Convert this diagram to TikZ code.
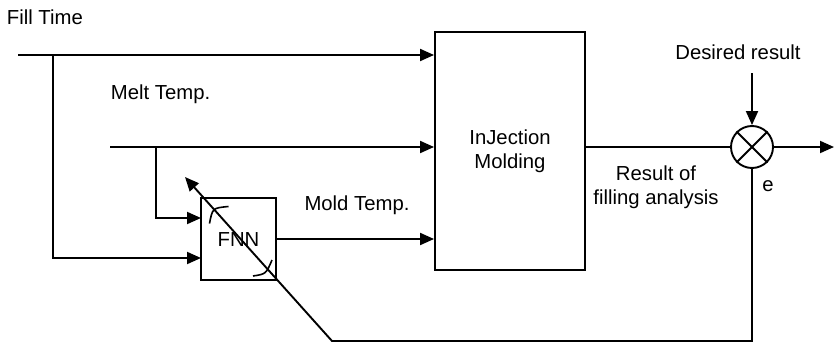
\documentclass[tikz,border=0pt]{standalone}
\usepackage{fontspec}
\setmainfont{Liberation Sans}
\usetikzlibrary{arrows.meta,calc}
\begin{document}
\begin{tikzpicture}[x=1pt,y=-1pt,
  line width=1.9pt,
  lbl/.style={inner sep=0pt,font=\fontsize{20.3}{24}\selectfont},
  blk/.style={draw,inner sep=0pt,line width=1.9pt},
  arr/.style={-{Triangle[length=14pt,width=12pt]}},
  adjmark/.style={line width=1.6pt}
]
\useasboundingbox (0,0) rectangle (834,345);
% labels
\node[lbl,anchor=west] (filllbl) at (6,17) {Fill Time};
\node[lbl,anchor=west] (meltlbl) at (110,94) {Melt Temp.};
\node[lbl] (moldlbl) at (357,205) {Mold Temp.};
\node[lbl,align=center] (reslbl) at (656,187) {Result of\\filling analysis};
\node[lbl] (deslbl) at (738,52) {Desired result};
\node[lbl] (elbl) at (768,186) {e};
% blocks
\node[blk,minimum width=150pt,minimum height=238pt,lbl,draw,align=center] (inj) at (510,151) {InJection\\Molding};
\node[blk,minimum width=75pt,minimum height=82pt] (fnn) at (238.5,239) {};
\node[lbl] (fnntxt) at (238.5,240) {FNN};
\node[blk,circle,minimum size=42pt] (sum) at (752,147) {};
\draw (sum.45) -- (sum.225) (sum.135) -- (sum.315);
% coordinates
\coordinate (fillstart) at (18,55);
\coordinate (fillbr) at (53,55);
\coordinate (meltstart) at (110,147);
\coordinate (meltbr) at (156,147);
\coordinate (fin1) at (201,218);
\coordinate (fin2) at (201,258);
\coordinate (out) at (834,147);
\coordinate (destop) at (752,73);
\coordinate (fbcorner) at (752,341);
\coordinate (fbturn) at (332,341);
\coordinate (fbtip) at (185,177);
% connectors
\draw[arr] (fillstart) -- (fillstart -| inj.west);
\draw[arr] (fillbr) |- (fin2);
\draw[arr] (meltstart) -- (meltstart -| inj.west);
\draw[arr] (meltbr) |- (fin1);
\draw[arr] (fnn.east) -- (fnn.east -| inj.west);
\draw (sum.west -| inj.east) -- (sum.west);
\draw[arr] (sum.east) -- (out);
\draw[arr] (destop) -- (sum.north);
\draw[arr] (sum.south) -- (fbcorner) -- (fbturn) -- (fbtip);
% adjustment marks
\draw[adjmark] (209.5,223.5) .. controls (212.5,208) .. (228.5,206.5);
\draw[adjmark] (253,276) .. controls (266,274) .. (272,260);
\end{tikzpicture}
\end{document}
